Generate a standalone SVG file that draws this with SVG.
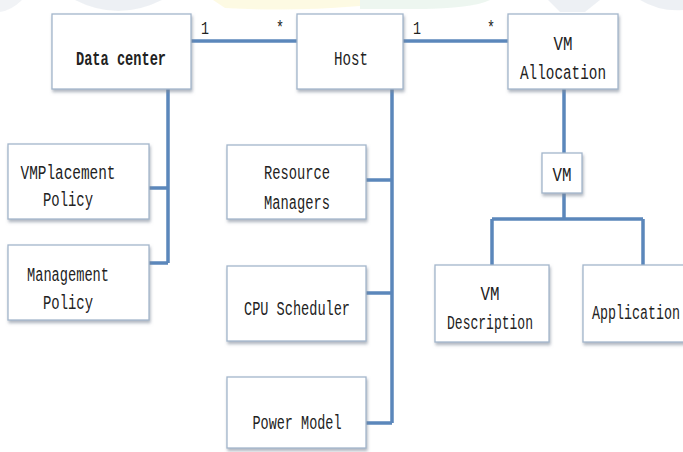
<svg xmlns="http://www.w3.org/2000/svg" width="683" height="452" viewBox="0 0 683 452">
<style>
.box{fill:#ffffff;stroke:#a3b6cb;stroke-width:1.3;filter:url(#sh)}
.t{font-family:"Liberation Mono","DejaVu Sans Mono",monospace;font-size:20px;fill:#222;text-anchor:middle}
.b{font-weight:bold}
.c{fill:none;stroke:#5b87bb;stroke-width:3.5;stroke-linecap:butt}
.m{font-family:"Liberation Mono","DejaVu Sans Mono",monospace;font-size:18px;fill:#222;text-anchor:middle}
</style>
<defs>
<filter id="sh" x="-10%" y="-10%" width="125%" height="135%">
<feDropShadow dx="1" dy="2.5" stdDeviation="1.5" flood-color="#7a8796" flood-opacity="0.6"/>
</filter>
</defs>
<rect width="683" height="452" fill="#ffffff"/>
<g id="watermark" opacity="0.5">
<path d="M75 0 Q118 22 162 0 Z" fill="#dde3ea"/>
<path d="M0 0 H22 Q12 10 0 12 Z" fill="#e4e8ee"/>
<path d="M213 0 H360 V6 Q290 12 225 8 Z" fill="#fdf6c8"/>
<path d="M360 0 H490 Q470 10 400 9 H360 Z" fill="#dcefe2"/>
<path d="M548 0 H600 L585 12 H560 Z" fill="#dde3ea"/>
<path d="M640 0 H683 V10 Q660 12 640 0 Z" fill="#dde3ea"/>
</g>
<g id="connectors">
<path class="c" d="M191 41 H297"/>
<path class="c" d="M403 41 H508"/>
<path class="c" d="M168 89 V263 M149 188 H168 M149 263 H168"/>
<path class="c" d="M392 89 V423 M366 180 H392 M366 293 H392 M366 423 H392"/>
<path class="c" d="M564 89 V153"/>
<path class="c" d="M564 193 V219 M492 219 H643 M492 219 V265 M643 219 V265"/>
<text class="m" x="205" y="34" textLength="8" lengthAdjust="spacingAndGlyphs">1</text>
<text class="m" x="280" y="33" textLength="8" lengthAdjust="spacingAndGlyphs">*</text>
<text class="m" x="417" y="34" textLength="8" lengthAdjust="spacingAndGlyphs">1</text>
<text class="m" x="491" y="33" textLength="8" lengthAdjust="spacingAndGlyphs">*</text>
</g>
<g id="datacenter">
<rect class="box" x="52" y="14" width="139" height="75"/>
<text class="t b" x="121" y="65" textLength="90" lengthAdjust="spacingAndGlyphs">Data center</text>
</g>
<g id="host">
<rect class="box" x="297" y="14" width="106" height="75"/>
<text class="t" x="351" y="65" textLength="34" lengthAdjust="spacingAndGlyphs">Host</text>
</g>
<g id="vmallocation">
<rect class="box" x="508" y="14" width="110" height="75"/>
<text class="t" x="563" y="50" textLength="19" lengthAdjust="spacingAndGlyphs">VM</text>
<text class="t" x="563" y="79" textLength="86" lengthAdjust="spacingAndGlyphs">Allocation</text>
</g>
<g id="vmplacement">
<rect class="box" x="8" y="144" width="141" height="75"/>
<text class="t" x="68" y="179" textLength="95" lengthAdjust="spacingAndGlyphs">VMPlacement</text>
<text class="t" x="68" y="206" textLength="50" lengthAdjust="spacingAndGlyphs">Policy</text>
</g>
<g id="management">
<rect class="box" x="8" y="245" width="141" height="75"/>
<text class="t" x="68" y="281" textLength="82" lengthAdjust="spacingAndGlyphs">Management</text>
<text class="t" x="68" y="309" textLength="50" lengthAdjust="spacingAndGlyphs">Policy</text>
</g>
<g id="resource">
<rect class="box" x="227" y="145" width="139" height="74"/>
<text class="t" x="297" y="179" textLength="66" lengthAdjust="spacingAndGlyphs">Resource</text>
<text class="t" x="297" y="209" textLength="66" lengthAdjust="spacingAndGlyphs">Managers</text>
</g>
<g id="cpu">
<rect class="box" x="227" y="266" width="139" height="75"/>
<text class="t" x="297" y="315" textLength="106" lengthAdjust="spacingAndGlyphs">CPU Scheduler</text>
</g>
<g id="power">
<rect class="box" x="227" y="377" width="139" height="71"/>
<text class="t" x="297" y="429" textLength="89" lengthAdjust="spacingAndGlyphs">Power Model</text>
</g>
<g id="vm">
<rect class="box" x="542" y="153" width="40" height="40"/>
<text class="t" x="562" y="181" textLength="19" lengthAdjust="spacingAndGlyphs">VM</text>
</g>
<g id="vmdescription">
<rect class="box" x="435" y="265" width="114" height="77"/>
<text class="t" x="490" y="300" textLength="19" lengthAdjust="spacingAndGlyphs">VM</text>
<text class="t" x="490" y="329" textLength="86" lengthAdjust="spacingAndGlyphs">Description</text>
</g>
<g id="application">
<rect class="box" x="583" y="265" width="110" height="77"/>
<text class="t" x="636" y="319" textLength="88" lengthAdjust="spacingAndGlyphs">Application</text>
</g>
</svg>
